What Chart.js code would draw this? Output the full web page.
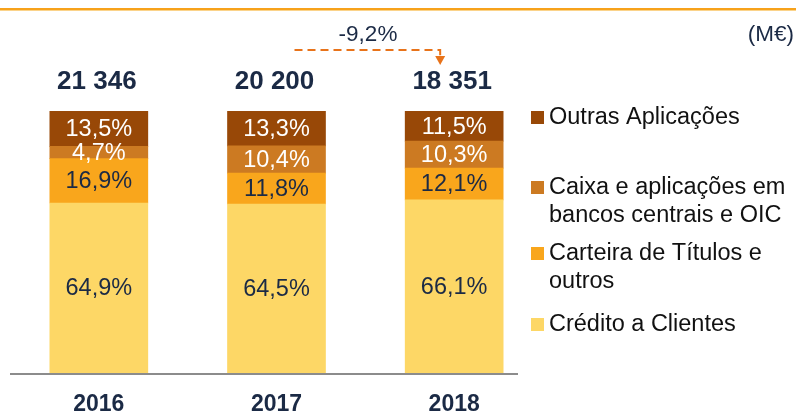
<!DOCTYPE html>
<html>
<head>
<meta charset="utf-8">
<script src="https://cdn.jsdelivr.net/npm/chart.js@4/dist/chart.umd.min.js"></script>
<style>
  html, body { margin: 0; padding: 0; background: #fff; }
  #wrap { width: 796px; height: 411px; position: relative; }
</style>
</head>
<body>
<div id="wrap"><canvas id="chart"></canvas></div>
<script>
  const years = ["2016", "2017", "2018"];
  const totals = ["21 346", "20 200", "18 351"];
  const seriesNames = [
    "Crédito a Clientes",
    "Carteira de Títulos e outros",
    "Caixa e aplicações em bancos centrais e OIC",
    "Outras Aplicações"
  ];
  const credito = [64.9, 64.5, 66.1];
  const carteira = [16.9, 11.8, 12.1];
  const caixa = [4.7, 10.4, 10.3];
  const outras = [13.5, 13.3, 11.5];
  const variation = "-9,2%";
  const unitLabel = "(M€)";

  const colors = ["#FDD766", "#F9A61C", "#CC7A22", "#984807"];
  const labelColors = ["#1b2a45", "#1b2a45", "#ffffff", "#ffffff"];
  const NAVY = "#1b2a45";
  const FONT = "'Liberation Sans', Arial, sans-serif";

  const seriesValues = [credito, carteira, caixa, outras];

  function fmtPct(v) {
    return v.toFixed(1).replace(".", ",") + "%";
  }

  const overlay = {
    id: "overlay",
    afterDraw(chart) {
      const ctx = chart.ctx;
      const area = chart.chartArea;
      ctx.save();

      // orange rule at top of slide
      ctx.fillStyle = "#F7A21B";
      ctx.fillRect(0, 8, chart.width, 2);
      ctx.fillStyle = "#FBD38A";
      ctx.fillRect(0, 10, chart.width, 1);

      // base axis line
      ctx.strokeStyle = "#8c8c8c";
      ctx.lineWidth = 2;
      ctx.beginPath();
      ctx.moveTo(area.left, area.bottom + 1);
      ctx.lineTo(518, area.bottom + 1);
      ctx.stroke();

      // segment labels
      ctx.textAlign = "center";
      ctx.textBaseline = "middle";
      ctx.font = "23.5px " + FONT;
      chart.data.datasets.forEach((ds, di) => {
        const meta = chart.getDatasetMeta(di);
        meta.data.forEach((bar, i) => {
          const cy = (bar.y + bar.base) / 2;
          ctx.fillStyle = labelColors[di];
          ctx.fillText(fmtPct(ds.data[i]), bar.x, cy + 1);
        });
      });

      // totals above bars
      const topMeta = chart.getDatasetMeta(chart.data.datasets.length - 1);
      ctx.font = "bold 26px " + FONT;
      ctx.fillStyle = NAVY;
      topMeta.data.forEach((bar, i) => {
        ctx.fillText(totals[i], bar.x - 2, bar.y - 29);
      });

      // variation arrow 2017 -> 2018
      const b2 = topMeta.data[1], b3 = topMeta.data[2];
      const x0 = b2.x + 18, x1 = b3.x - 14, yLine = 50;
      ctx.strokeStyle = "#E8731A";
      ctx.lineWidth = 2;
      ctx.setLineDash([8, 5]);
      ctx.beginPath();
      ctx.moveTo(x0, yLine);
      ctx.lineTo(x1, yLine);
      ctx.lineTo(x1, 56);
      ctx.stroke();
      ctx.setLineDash([]);
      ctx.fillStyle = "#E8731A";
      ctx.beginPath();
      ctx.moveTo(x1 - 5, 56);
      ctx.lineTo(x1 + 5, 56);
      ctx.lineTo(x1, 65);
      ctx.closePath();
      ctx.fill();

      ctx.font = "22.5px " + FONT;
      ctx.fillStyle = NAVY;
      ctx.fillText(variation, 368, 35);

      ctx.textAlign = "right";
      ctx.fillText(unitLabel, 794, 35);

      // legend (top item = top of stack)
      const legendY = [117, 187, 253, 324];
      ctx.textAlign = "left";
      ctx.font = "23.5px " + FONT;
      const order = [3, 2, 1, 0];
      order.forEach((di, k) => {
        const y = legendY[k];
        ctx.fillStyle = colors[di];
        ctx.fillRect(531, y - 6, 13, 13);
        const words = seriesNames[di].split(" ");
        const lines = [];
        let line = "";
        words.forEach((w) => {
          const test = line ? line + " " + w : w;
          if (ctx.measureText(test).width > 250 && line) {
            lines.push(line);
            line = w;
          } else {
            line = test;
          }
        });
        lines.push(line);
        ctx.fillStyle = "#111111";
        lines.forEach((ln, li) => {
          ctx.fillText(ln, 549, y + 1 + li * 28);
        });
      });

      ctx.restore();
    }
  };

  new Chart(document.getElementById("chart"), {
    type: "bar",
    data: {
      labels: years,
      datasets: seriesValues.map((vals, i) => ({
        label: seriesNames[i],
        data: vals,
        backgroundColor: colors[i],
        borderWidth: 0,
        barThickness: 98
      }))
    },
    options: {
      responsive: true,
      maintainAspectRatio: false,
      animation: false,
      layout: { padding: { left: 10, right: 253, top: 111, bottom: 0 } },
      scales: {
        x: {
          stacked: true,
          grid: { display: false },
          border: { display: false },
          ticks: { color: NAVY, font: { family: FONT, size: 23, weight: "bold" }, padding: 10 },
          afterFit: (scale) => { scale.height = 38; }
        },
        y: { stacked: true, min: 0, max: 100, display: false }
      },
      plugins: {
        legend: { display: false },
        tooltip: { enabled: false }
      }
    },
    plugins: [overlay]
  });
</script>
</body>
</html>
